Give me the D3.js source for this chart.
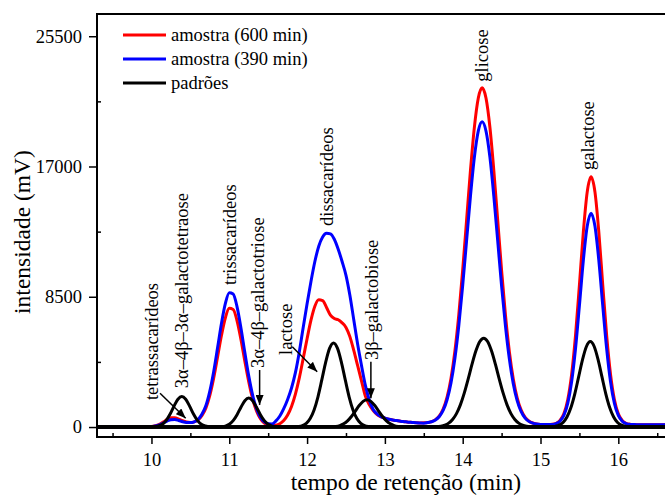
<!DOCTYPE html>
<html lang="pt">
<head>
<meta charset="UTF-8">
<title>Cromatograma - amostras e padrões</title>
<script src="https://d3js.org/d3.v7.min.js"></script>
<style>
  body { margin: 0; background: #fff; }
  svg text { font-family: "Liberation Serif", "Times New Roman", serif; fill: #000; }
</style>
</head>
<body>
<svg id="chart" width="665" height="495"></svg>
<script>
// tempo de retenção (min), grade comum das duas amostras
const tempo = [9.3, 9.5, 9.7,
  9.9, 9.95,
  10.0, 10.05, 10.1, 10.15, 10.2, 10.25, 10.3, 10.35, 10.4, 10.45,
  10.5, 10.55, 10.6, 10.65, 10.7, 10.75, 10.8, 10.85, 10.9, 10.95,
  11.0, 11.05, 11.1, 11.15, 11.2, 11.25, 11.3, 11.35, 11.4, 11.45,
  11.5, 11.55, 11.6, 11.65, 11.7, 11.75, 11.8, 11.85, 11.9, 11.95,
  12.0, 12.05, 12.1, 12.15, 12.2, 12.25, 12.3, 12.35, 12.4, 12.45,
  12.5, 12.55, 12.6, 12.65, 12.7, 12.75, 12.8, 12.85, 12.9, 12.95,
  13.0, 13.05, 13.1, 13.15, 13.2, 13.25, 13.3, 13.35, 13.4, 13.45,
  13.5, 13.55, 13.6, 13.65, 13.7, 13.75, 13.8, 13.85, 13.9, 13.95,
  14.0, 14.05, 14.1, 14.15, 14.2, 14.25, 14.3, 14.35, 14.4, 14.45,
  14.5, 14.55, 14.6, 14.65, 14.7, 14.75, 14.8, 14.85, 14.9, 14.95,
  15.0, 15.05, 15.1, 15.15, 15.2, 15.25, 15.3, 15.35, 15.4, 15.45,
  15.5, 15.55, 15.6, 15.65, 15.7, 15.75, 15.8, 15.85, 15.9, 15.95,
  16.0, 16.05, 16.1, 16.15, 16.2, 16.25, 16.3, 16.35, 16.4, 16.45,
  16.5, 16.55, 16.6];

// amostra (600 min)
const amostra600 = [0, 0, 0,
  0, 10,
  30, 80, 170, 320, 480, 600, 610, 520, 410, 330,
  300, 340, 470, 760, 1250, 2066, 3207, 4586, 5988, 7129,
  7743, 7672, 6935, 5717, 4300, 2952, 1845, 1055, 551, 261,
  130, 90, 115, 215, 420, 780, 1340, 2150, 3210, 4470,
  5760, 6970, 7880, 8300, 8250, 7800, 7300, 7080, 7000, 6800,
  6500, 5900, 5000, 4000, 3000, 2000, 1450, 1080, 820, 670,
  580, 510, 460, 420, 380, 350, 320, 300, 280, 265,
  274, 298, 357, 484, 735, 1194, 1972, 3190, 4963, 7337,
  10254, 13508, 16758, 19556, 21454, 22130, 21449, 19546, 16738, 13483,
  10214, 7292, 4908, 3130, 1902, 1119, 650, 394, 262, 198,
  169, 160, 162, 178, 242, 423, 860, 1784, 3435, 5975,
  9259, 12690, 15327, 16330, 15327, 12690, 9259, 5975, 3435, 1784,
  860, 423, 242, 178, 160, 155, 152, 150, 150, 150,
  150, 150, 150];

// amostra (390 min)
const amostra390 = [0, 0, 0,
  0, 8,
  25, 65, 140, 260, 390, 480, 490, 430, 350, 300,
  290, 340, 500, 850, 1400, 2340, 3626, 5186, 6771, 8061,
  8756, 8675, 7842, 6465, 4862, 3338, 2086, 1193, 640, 330,
  210, 200, 400, 720, 1200, 1800, 2550, 3550, 4900, 6500,
  8050, 9500, 10800, 11800, 12400, 12640, 12600, 12250, 11600, 10800,
  9900, 8600, 7000, 5400, 4000, 2700, 1750, 1150, 850, 680,
  580, 510, 460, 420, 380, 350, 320, 300, 280, 265,
  255, 293, 346, 459, 685, 1096, 1796, 2890, 4484, 6618,
  9240, 12164, 15086, 17601, 19307, 19915, 19302, 17591, 15066, 12139,
  9200, 6573, 4429, 2830, 1726, 1021, 600, 369, 251, 193,
  165, 158, 160, 174, 228, 383, 756, 1544, 2952, 5118,
  7919, 10845, 13094, 13950, 13094, 10845, 7919, 5118, 2952, 1544,
  756, 383, 228, 174, 158, 153, 150, 150, 150, 150,
  150, 150, 150];

// padrões: cada um com o seu próprio cromatograma
const tetraT = [9.3, 9.99, 10.04, 10.09, 10.14, 10.19, 10.24, 10.29, 10.34, 10.39, 10.44, 10.49, 10.54, 10.59, 10.64, 10.69, 10.74, 10.79, 16.6];
const tetraV = [0, 5, 20, 66, 187, 438, 850, 1363, 1811, 1990, 1811, 1363, 850, 438, 187, 66, 20, 5, 0];
const trioseT = [9.3, 10.85, 10.9, 10.95, 11.0, 11.05, 11.1, 11.15, 11.2, 11.25, 11.3, 11.35, 11.4, 11.45, 11.5, 11.55, 11.6, 11.65, 16.6];
const trioseV = [0, 5, 19, 62, 178, 416, 807, 1295, 1720, 1890, 1720, 1295, 807, 416, 178, 62, 19, 5, 0];
const lactoseT = [9.3, 11.84, 11.89, 11.94, 11.99, 12.04, 12.09, 12.14, 12.19, 12.24, 12.29, 12.34, 12.39, 12.44, 12.49, 12.54, 12.59, 12.64, 12.69, 12.74, 12.79, 12.84, 16.6];
const lactoseV = [0, 9, 31, 93, 241, 554, 1114, 1976, 3091, 4255, 5150, 5490, 5150, 4255, 3091, 1976, 1114, 554, 241, 93, 31, 9, 0];
const bioseT = [9.3, 12.32, 12.37, 12.42, 12.47, 12.52, 12.57, 12.62, 12.67, 12.72, 12.77, 12.82, 12.87, 12.92, 12.97, 13.02, 13.07, 13.12, 13.17, 13.22, 16.6];
const bioseV = [0, 14, 39, 96, 210, 402, 687, 1043, 1403, 1677, 1780, 1677, 1403, 1043, 687, 402, 210, 96, 39, 14, 0];
const glicoseT = [9.3, 13.67, 13.72, 13.77, 13.82, 13.87, 13.92, 13.97, 14.02, 14.07, 14.12, 14.17, 14.22, 14.27, 14.32, 14.37, 14.42, 14.47, 14.52, 14.57, 14.62, 14.67, 14.72, 14.77, 14.82, 14.87, 16.6];
const glicoseV = [0, 23, 55, 122, 255, 493, 876, 1444, 2210, 3126, 4101, 4971, 5580, 5800, 5580, 4971, 4101, 3126, 2210, 1444, 876, 493, 255, 122, 55, 23, 0];
const galactoseT = [9.3, 15.14, 15.19, 15.24, 15.29, 15.34, 15.39, 15.44, 15.49, 15.54, 15.59, 15.64, 15.69, 15.74, 15.79, 15.84, 15.89, 15.94, 15.99, 16.04, 16.09, 16.14, 16.6];
const galactoseV = [0, 14, 45, 123, 301, 658, 1261, 2154, 3270, 4397, 5256, 5580, 5256, 4397, 3270, 2154, 1261, 658, 301, 123, 45, 14, 0];

// ticks
const xTicks = [10, 11, 12, 13, 14, 15, 16];
const xMinor = [9.5, 10.5, 11.5, 12.5, 13.5, 14.5, 15.5, 16.5];
const yTicks = [0, 8500, 17000, 25500];
const yMinor = [4250, 12750, 21250];

// legenda
const legendNames = ["amostra (600 min)", "amostra (390 min)", "padrões"];
const legendColors = ["#ff0000", "#0000ff", "#000000"];

// nomes dos picos, ancorados em (tempo, intensidade) no pé do texto
const peakNames = ["tetrassacarídeos", "3α–4β–3α–galactotetraose", "trissacarídeos",
  "3α–4β–galactotriose", "lactose", "dissacarídeos", "3β–galactobiose", "glicose", "galactose"];
const peakT = [10.08, 10.47, 11.09, 11.45, 11.80, 12.33, 12.91, 14.33, 15.69];
const peakV = [1760, 2530, 9270, 3850, 4700, 13120, 4370, 22530, 16770];

// setas: [t1, v1, t2, v2]
const arrows = [
  [10.11, 2200, 10.44, 570],
  [11.39, 3720, 11.39, 1440],
  [11.81, 5240, 12.13, 3610],
  [12.82, 4260, 12.82, 1880]
];

const svg = d3.select("#chart");
const mLeft = 97, mRight = 665, mTop = 14, mBottom = 437;
const serif = "'Liberation Serif', 'Times New Roman', serif";

const x = d3.scaleLinear().domain([9.3, 16.6]).range([mLeft, mRight]);
const y = d3.scaleLinear().domain([-650, 26950]).range([mBottom, mTop]);

const defs = svg.append("defs");
defs.append("clipPath").attr("id", "plotclip")
  .append("rect").attr("x", mLeft).attr("y", mTop)
  .attr("width", mRight - mLeft).attr("height", mBottom - mTop);

defs.append("marker")
  .attr("id", "head")
  .attr("markerUnits", "userSpaceOnUse")
  .attr("markerWidth", 10).attr("markerHeight", 8)
  .attr("refX", 10).attr("refY", 4)
  .attr("orient", "auto")
  .append("path").attr("d", "M0,0 L10,4 L0,8 Z").attr("fill", "#000");

// curves
const line = d3.line()
  .x(d => x(d[0]))
  .y(d => y(d[1]))
  .curve(d3.curveMonotoneX);

const curves = svg.append("g").attr("clip-path", "url(#plotclip)");

curves.append("path").datum(d3.zip(tempo, amostra600))
  .attr("d", line).attr("fill", "none")
  .attr("stroke", legendColors[0]).attr("stroke-width", 3);

curves.append("path").datum(d3.zip(tempo, amostra390))
  .attr("d", line).attr("fill", "none")
  .attr("stroke", legendColors[1]).attr("stroke-width", 3);

const standards = [
  [tetraT, tetraV], [trioseT, trioseV], [lactoseT, lactoseV],
  [bioseT, bioseV], [glicoseT, glicoseV], [galactoseT, galactoseV]
];
standards.forEach(function (s) {
  curves.append("path").datum(d3.zip(s[0], s[1]))
    .attr("d", line).attr("fill", "none")
    .attr("stroke", legendColors[2]).attr("stroke-width", 3)
    .attr("stroke-linejoin", "round");
});

// axes
svg.append("g").attr("transform", `translate(0,${mBottom})`)
  .call(d3.axisBottom(x).tickValues(xTicks).tickSize(7).tickPadding(9).tickFormat(d3.format("d")));
svg.append("g").attr("transform", `translate(0,${mBottom})`)
  .call(d3.axisBottom(x).tickValues(xMinor).tickSize(-4).tickFormat(""));

svg.append("g").attr("transform", `translate(${mLeft},0)`)
  .call(d3.axisLeft(y).tickValues(yTicks).tickSize(8).tickPadding(7).tickFormat(d3.format("d")));
svg.append("g").attr("transform", `translate(${mLeft},0)`)
  .call(d3.axisLeft(y).tickValues(yMinor).tickSize(-4).tickFormat(""));

svg.selectAll(".domain").remove();
svg.selectAll(".tick line").attr("stroke", "#000").attr("stroke-width", 1.5);
svg.selectAll(".tick text").style("font-size", "18.5px").style("font-family", serif);

// frame
svg.append("path")
  .attr("d", `M${mRight + 2},${mTop} L${mLeft},${mTop} L${mLeft},${mBottom} L${mRight + 2},${mBottom}`)
  .attr("fill", "none").attr("stroke", "#000").attr("stroke-width", 2);

// axis titles
svg.append("text")
  .attr("x", 406).attr("y", 490)
  .attr("text-anchor", "middle")
  .style("font-size", "23.5px")
  .text("tempo de retenção (min)");

svg.append("text")
  .attr("transform", "translate(30,232) rotate(-90)")
  .attr("text-anchor", "middle")
  .style("font-size", "23.5px")
  .text("intensidade (mV)");

// legend
const legend = svg.append("g");
legendNames.forEach(function (name, i) {
  const ly = 35 + i * 24;
  legend.append("line")
    .attr("x1", 123).attr("x2", 166).attr("y1", ly).attr("y2", ly)
    .attr("stroke", legendColors[i]).attr("stroke-width", 3);
  legend.append("text")
    .attr("x", 171).attr("y", ly + 6)
    .style("font-size", "18.5px")
    .text(name);
});

// peak labels
peakNames.forEach(function (name, i) {
  svg.append("text")
    .attr("transform", `translate(${x(peakT[i])},${y(peakV[i])}) rotate(-90)`)
    .style("font-size", "18.5px")
    .text(name);
});

// arrows
arrows.forEach(function (a) {
  svg.append("line")
    .attr("x1", x(a[0])).attr("y1", y(a[1]))
    .attr("x2", x(a[2])).attr("y2", y(a[3]))
    .attr("stroke", "#000").attr("stroke-width", 1.5)
    .attr("marker-end", "url(#head)");
});
</script>
</body>
</html>
